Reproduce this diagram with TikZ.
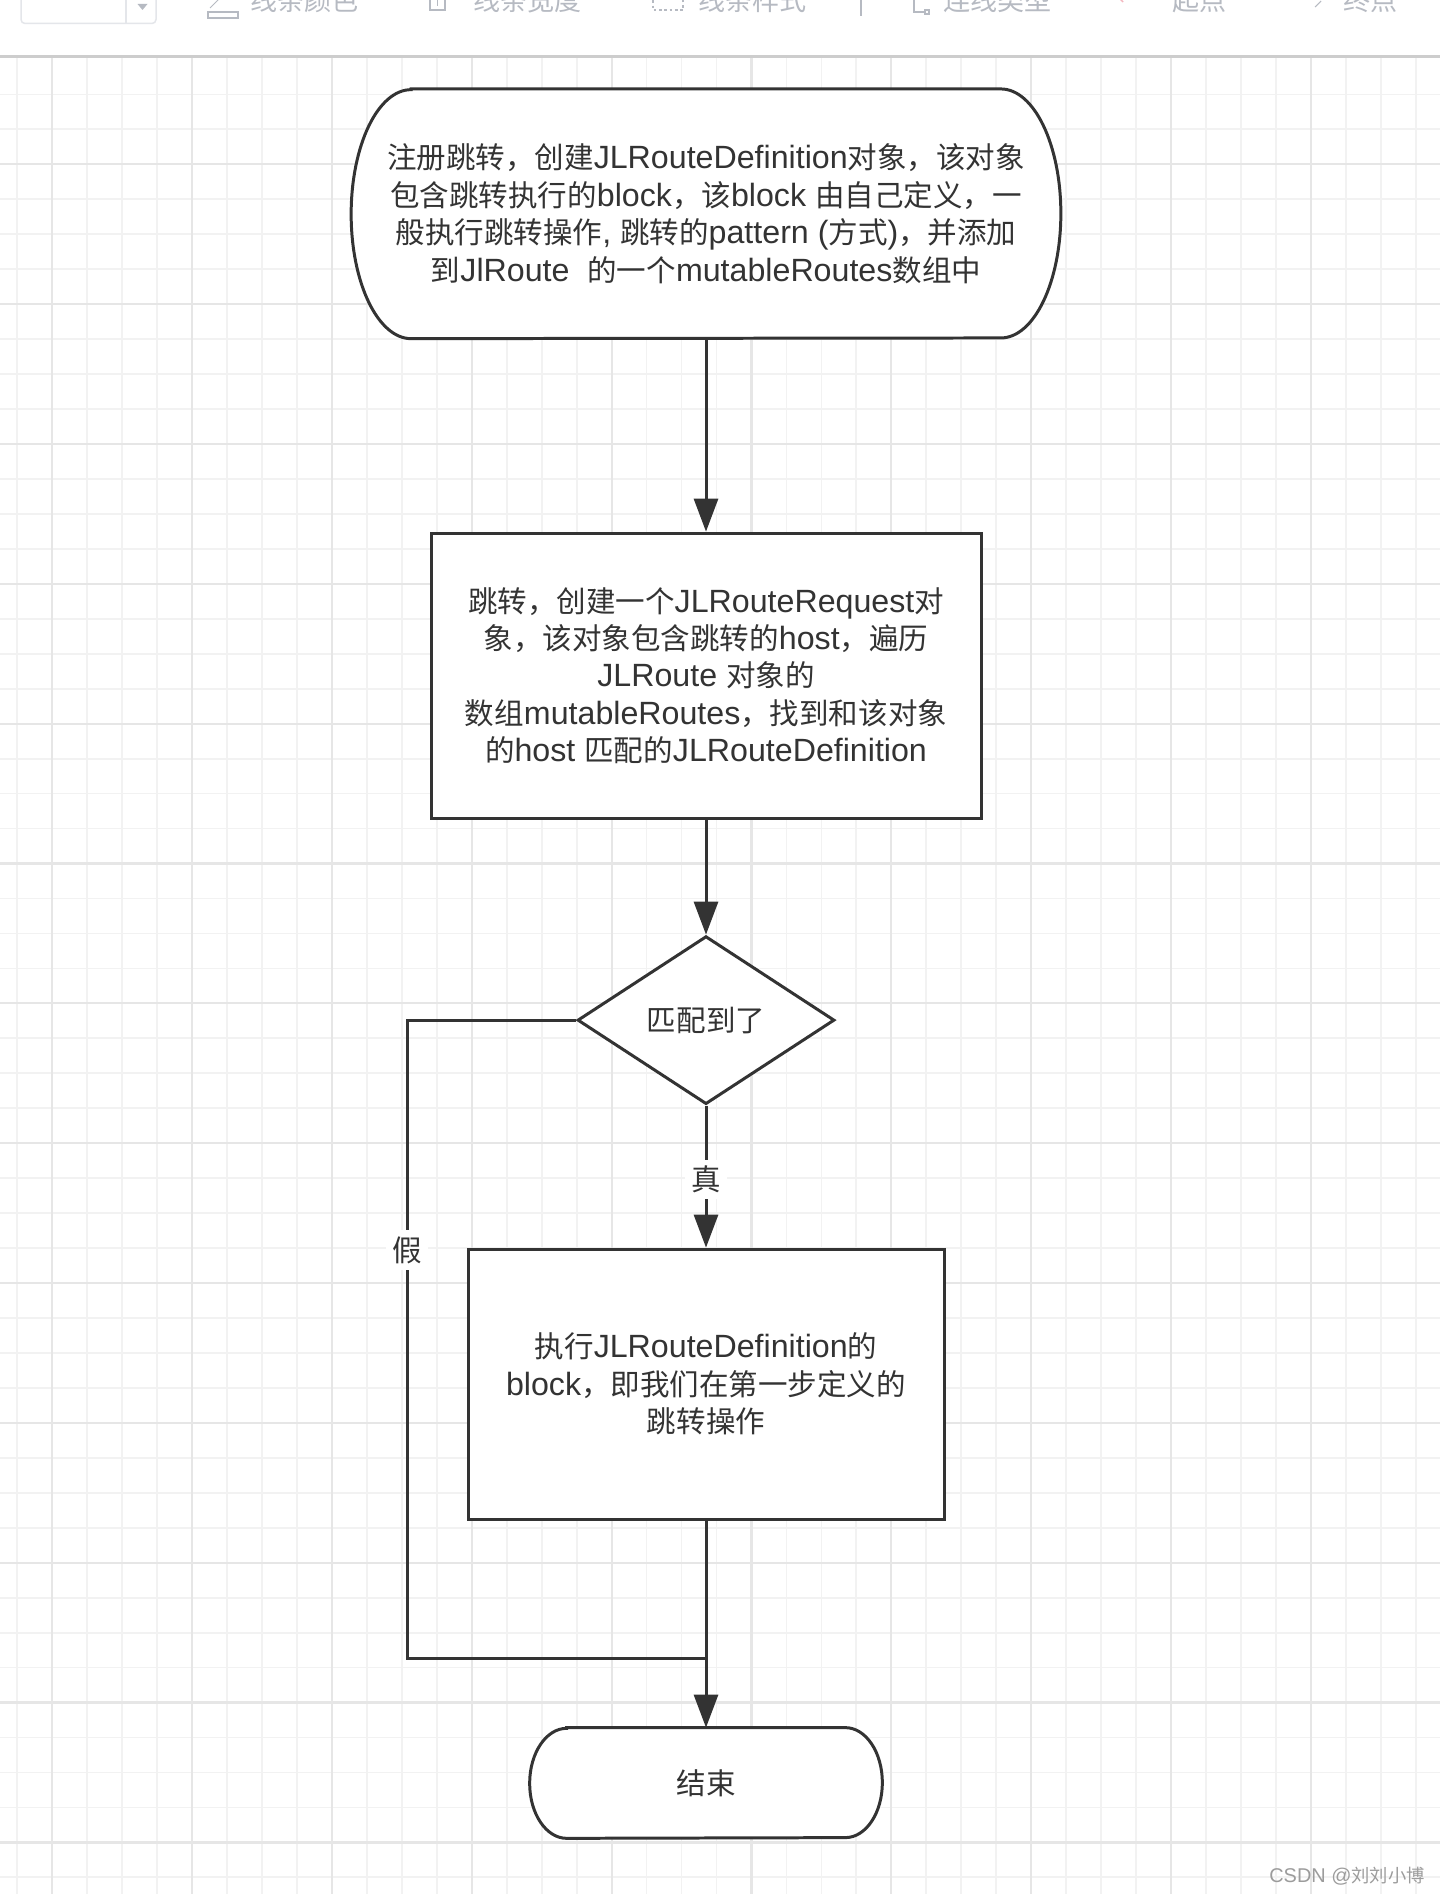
\documentclass[tikz,border=0pt]{standalone}
\usepackage{fontspec}
\setmainfont{Liberation Sans}[Scale=1.09]
\newfontfamily\cjkfont{Noto Sans CJK SC}
\usepackage{xcolor}
\usepackage{tikz}
\usetikzlibrary{shapes.geometric,arrows.meta,positioning,backgrounds}

%% --- CJK face around Chinese characters ---
\newcount\cjkchar
\cjkchar="4E00
\loop
  \XeTeXcharclass\cjkchar=1
  \advance\cjkchar by 1
\ifnum\cjkchar<"A000 \repeat
\XeTeXcharclass"FF0C=3
\XeTeXcharclass"3001=3
\XeTeXcharclass"3002=3
\XeTeXinterchartokenstate=1
\XeTeXinterchartoks 0 1 = {\cjkfont}
\XeTeXinterchartoks 4095 1 = {\cjkfont}
\XeTeXinterchartoks 0 3 = {\cjkfont}
\XeTeXinterchartoks 4095 3 = {\cjkfont}
\XeTeXinterchartoks 1 0 = {\rmfamily}
\XeTeXinterchartoks 3 0 = {\rmfamily}
\XeTeXinterchartoks 4095 0 = {\rmfamily}

\definecolor{ink}{HTML}{333333}
\definecolor{gridminor}{HTML}{F2F2F2}
\definecolor{gridmajor}{HTML}{E6E6E6}
\definecolor{toolgray}{HTML}{B6BAC2}
\definecolor{boxgray}{HTML}{E4E6EA}
\definecolor{rulegray}{HTML}{CDCDCD}
\definecolor{pinkmark}{HTML}{F4B6BE}
\definecolor{marktext}{HTML}{9C9C9C}

\begin{document}
\begin{tikzpicture}[
  font=\fontsize{16.8pt}{21.3pt}\selectfont,
  text=ink,
  wire/.style={draw=ink, line width=1.7pt},
  arr/.style={wire, -{Triangle[length=0.66cm, width=0.48cm]}},
  proc/.style={draw=ink, line width=1.7pt, fill=white, align=center,
               inner sep=0pt, minimum width=#1},
  term/.style={align=center, inner sep=0pt, minimum width=#1},
  decide/.style={draw=ink, line width=1.7pt, fill=white, diamond, aspect=1.55,
                 inner sep=0pt, minimum width=5.14cm, minimum height=3.36cm},
  lbl/.style={fill=white, inner sep=0.12cm},
  tool/.style={text=toolgray, anchor=base west, inner sep=0pt,
               font=\fontsize{15.4pt}{18pt}\selectfont},
  toolicon/.style={draw=toolgray, line width=0.6pt},
  gridline/.style={draw=gridminor, line width=0.035cm},
  gridbold/.style={draw=gridmajor, line width=0.045cm},
]
\useasboundingbox (0,0) rectangle (28.8,-37.88);
\clip (0,0) rectangle (28.8,-37.88);

%% --- Canvas grid ---
\begin{scope}[on background layer]
  \fill[white] (0,0) rectangle (28.8,-37.88);
  \foreach \k in {0,...,40}
    \draw[gridline] ({0.346+0.6992*\k},-1.14) -- ({0.346+0.6992*\k},-37.88);
  \foreach \j in {-2,...,49}
    \draw[gridline] (0,{-3.286-0.6992*\j}) -- (28.8,{-3.286-0.6992*\j});
  \foreach \k in {1,5,...,37}
    \draw[gridbold] ({0.346+0.6992*\k},-1.14) -- ({0.346+0.6992*\k},-37.88);
  \foreach \j in {0,4,...,48}
    \draw[gridbold] (0,{-3.286-0.6992*\j}) -- (28.8,{-3.286-0.6992*\j});
\end{scope}

%% --- Toolbar ---
\draw[rulegray, line width=0.05cm] (0,-1.13) -- (28.8,-1.13);
\draw[boxgray, line width=0.03cm, rounded corners=0.08cm] (0.42,0.2) rectangle (3.12,-0.47);
\draw[boxgray, line width=0.03cm] (2.52,0.2) -- (2.52,-0.47);
\fill[toolgray] (2.75,-0.08) -- (2.95,-0.08) -- (2.85,-0.2) -- cycle;
\draw[toolicon] (4.16,-0.24) rectangle (4.76,-0.36);
\draw[toolicon] (4.2,-0.16) -- (4.4,0.04);
\draw[toolicon] (8.6,0.1) rectangle (8.9,-0.2);
\draw[toolicon] (8.75,0) -- (8.75,-0.12);
\draw[toolicon, dash pattern=on 1.5pt off 1.5pt] (13.06,0.1) rectangle (13.66,-0.2);
\draw[toolicon] (17.22,0.1) -- (17.22,-0.32);
\draw[toolicon] (18.28,0.1) -- (18.28,-0.24) -- (18.5,-0.24);
\draw[toolicon] (18.5,-0.2) rectangle (18.58,-0.28);
\draw[pinkmark, line width=0.8pt] (22.4,0.02) -- (22.46,-0.04);
\draw[toolicon] (26.3,-0.14) -- (26.42,-0.02);

\node[tool] (tcolor) at (5.0,-0.22)   {线条颜色};
\node[tool] (twidth) at (9.46,-0.22)  {线条宽度};
\node[tool] (tstyle) at (13.96,-0.22) {线条样式};
\node[tool] (tlink)  at (18.86,-0.22) {连线类型};
\node[tool] (tstart) at (23.44,-0.22) {起点};
\node[tool] (tend)   at (26.86,-0.22) {终点};

%% --- Nodes ---
\node[term=14.18cm, minimum height=4.98cm] (reg) at (14.12,-4.276)
  {注册跳转，创建JLRouteDefinition对象，该对象\\
   包含跳转执行的block，该block 由自己定义，一\\
   般执行跳转操作, 跳转的pattern (方式)，并添加\\
   到JlRoute\ \ 的一个mutableRoutes数组中};

\node[proc=11cm, minimum height=5.7cm, below=3.86cm of reg] (req)
  {跳转，创建一个JLRouteRequest对\\
   象，该对象包含跳转的host，遍历\\
   JLRoute 对象的\\
   数组mutableRoutes，找到和该对象\\
   的host 匹配的JLRouteDefinition};

\node[decide, below=2.3cm of req] (match) {匹配到了};

\node[proc=9.52cm, minimum height=5.4cm, below=2.84cm of match] (exec)
  {执行JLRouteDefinition的\\
   block，即我们在第一步定义的\\
   跳转操作};

\node[term=7.04cm, minimum height=2.2cm, below=4.14cm of exec] (stop) {结束};

\coordinate[below=2.76cm of exec] (merge);
\coordinate[left=5.98cm of merge] (back);

%% --- Terminator outlines ---
\begin{scope}[on background layer]
  \draw[wire, fill=white] ([xshift=1.2cm]reg.north west) -- ([xshift=-1.2cm]reg.north east)
    arc[start angle=90, end angle=-90, x radius=1.2cm, y radius=2.49cm]
    -- ([xshift=1.2cm]reg.south west)
    arc[start angle=270, end angle=90, x radius=1.2cm, y radius=2.49cm] -- cycle;
  \draw[wire, fill=white] ([xshift=0.74cm]stop.north west) -- ([xshift=-0.74cm]stop.north east)
    arc[start angle=90, end angle=-90, x radius=0.74cm, y radius=1.1cm]
    -- ([xshift=0.74cm]stop.south west)
    arc[start angle=270, end angle=90, x radius=0.74cm, y radius=1.1cm] -- cycle;
\end{scope}

%% --- Arrows ---
\draw[arr] (reg) -- (req);
\draw[arr] (req) -- (match);
\draw[arr] (match) -- node[lbl, pos=0.52] {真} (exec);
\draw[arr] (exec) -- (stop);
\draw[wire] (match.west) -| node[lbl, pos=0.68] {假} (back) -- (merge);

%% --- Watermark ---
\node[anchor=east, inner sep=0pt, text=marktext,
      font=\fontsize{10.4pt}{13pt}\selectfont] (mark) at (28.5,-37.52) {CSDN @刘刘小博};

\end{tikzpicture}
\end{document}
